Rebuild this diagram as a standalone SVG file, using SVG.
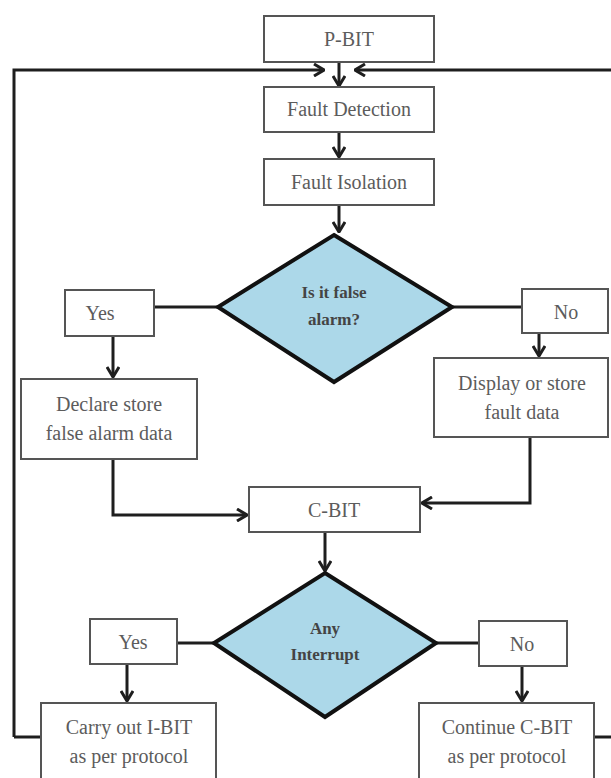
<svg xmlns="http://www.w3.org/2000/svg" width="611" height="778" viewBox="0 0 611 778">
<defs>
<marker id="ah" viewBox="0 0 12 14" refX="11" refY="7" markerWidth="12" markerHeight="14" markerUnits="userSpaceOnUse" orient="auto">
<path d="M1,1 L11,7 L1,13" fill="none" stroke="#1e1e1e" stroke-width="3"/>
</marker>
</defs>
<style>
.box{fill:#fff;stroke:#555;stroke-width:2}
.dia{fill:#acd8e9;stroke:#111;stroke-width:4;stroke-linejoin:miter}
.t{font-size:20px;fill:#5c5c5c;text-anchor:middle}
.td{font-size:17px;font-weight:bold;fill:#444;text-anchor:middle}
.c{fill:none;stroke:#1e1e1e;stroke-width:3}
.ca{fill:none;stroke:#1e1e1e;stroke-width:3;marker-end:url(#ah)}
</style>
<rect width="611" height="778" fill="#fff"/>
<g id="connectors">
<path class="ca" d="M14,737 L14,70 L324,70"/>
<path class="ca" d="M611,70 L355,70"/>
<path class="ca" d="M339,62 L339,86"/>
<path class="ca" d="M339,132 L339,157"/>
<path class="ca" d="M339,205 L339,232"/>
<path class="c" d="M14,737 L41,737"/>
<path class="c" d="M154,307 L218,307"/>
<path class="c" d="M452,307 L522,307"/>
<path class="ca" d="M113,336 L113,377"/>
<path class="ca" d="M539,333 L539,356"/>
<path class="ca" d="M113,459 L113,515 L247,515"/>
<path class="ca" d="M530,437 L530,503 L422,503"/>
<path class="ca" d="M325,532 L325,571"/>
<path class="c" d="M177,643 L214,643"/>
<path class="c" d="M436,643 L479,643"/>
<path class="ca" d="M127,664 L127,701"/>
<path class="ca" d="M522,666 L522,701"/>
<path class="c" d="M594,737 L611,737"/>
</g>
<g font-family="Liberation Serif, Times New Roman, serif">
<g id="pbit"><rect class="box" x="264" y="16" width="170" height="46"/><text class="t" x="349" y="46">P-BIT</text></g>
<g id="fault-detection"><rect class="box" x="264" y="87" width="170" height="45"/><text class="t" x="349" y="116">Fault Detection</text></g>
<g id="fault-isolation"><rect class="box" x="264" y="159" width="170" height="46"/><text class="t" x="349" y="189">Fault Isolation</text></g>
<g id="false-alarm"><polygon class="dia" points="334,235 452,307 334,382 218,307"/><text class="td" x="334" y="298">Is it false</text><text class="td" x="334" y="325">alarm?</text></g>
<g id="yes1"><rect class="box" x="65" y="290" width="89" height="46"/><text class="t" x="100" y="320">Yes</text></g>
<g id="no1"><rect class="box" x="522" y="289" width="86" height="44"/><text class="t" x="566" y="319">No</text></g>
<g id="declare"><rect class="box" x="21" y="379" width="176" height="80"/><text class="t" x="109" y="411">Declare store</text><text class="t" x="109" y="440">false alarm data</text></g>
<g id="display"><rect class="box" x="434" y="358" width="174" height="79"/><text class="t" x="522" y="390">Display or store</text><text class="t" x="522" y="419">fault data</text></g>
<g id="cbit"><rect class="box" x="249" y="487" width="171" height="45"/><text class="t" x="334" y="517">C-BIT</text></g>
<g id="interrupt"><polygon class="dia" points="325,573 436,643 325,717 214,643"/><text class="td" x="325" y="634">Any</text><text class="td" x="325" y="660">Interrupt</text></g>
<g id="yes2"><rect class="box" x="90" y="619" width="87" height="45"/><text class="t" x="133" y="649">Yes</text></g>
<g id="no2"><rect class="box" x="479" y="621" width="88" height="45"/><text class="t" x="522" y="651">No</text></g>
<g id="ibit"><rect class="box" x="41" y="703" width="175" height="90"/><text class="t" x="129" y="734">Carry out I-BIT</text><text class="t" x="129" y="763">as per protocol</text></g>
<g id="continue"><rect class="box" x="419" y="703" width="175" height="90"/><text class="t" x="507" y="734">Continue C-BIT</text><text class="t" x="507" y="763">as per protocol</text></g>
</g>
</svg>
